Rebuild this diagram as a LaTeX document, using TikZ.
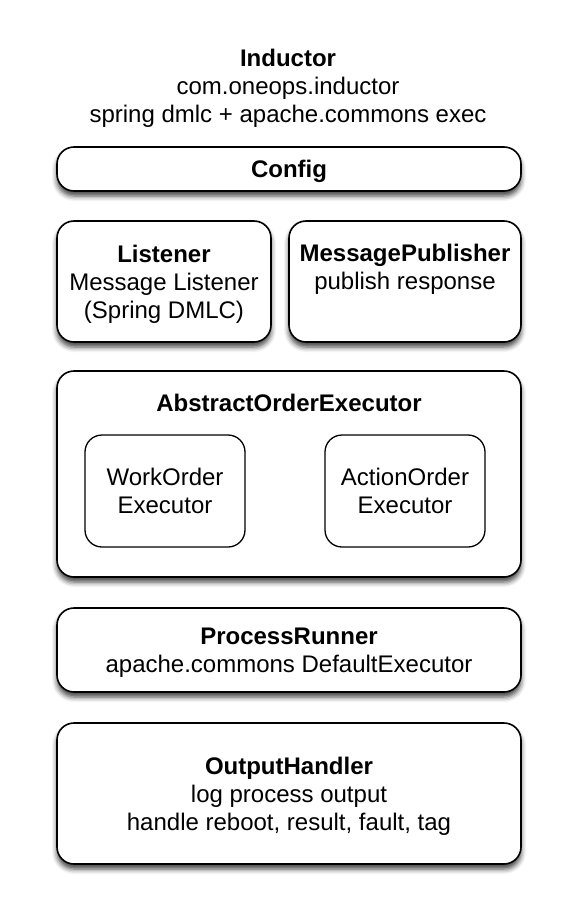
\documentclass[tikz,border=0pt]{standalone}
\usepackage{fontspec}
\setmainfont{Liberation Sans}
\usepackage{tikz}
\usetikzlibrary{shadows.blur}
\newcommand{\widthlayer}{464pt}
\newcommand{\widthpart}{160pt}
\newcommand{\heightpart}{112pt}
\tikzset{
    common/.style={draw, fill=white, rounded corners=17pt, align=center, inner sep=0pt, text depth=0pt},
    layer/.style={common, line width=1.6pt, minimum width=\widthlayer,
        blur shadow={shadow xshift=0pt, shadow yshift=-5pt, shadow blur radius=5pt, shadow opacity=75}},
    half/.style={layer, minimum width=214pt},
    part/.style={common, line width=1.3pt, minimum width=\widthpart, minimum height=\heightpart},
    caption/.style={align=center, inner sep=0pt}
}
\begin{document}
\begin{tikzpicture}[x=1pt, y=-1pt, font=\fontsize{24}{28}\selectfont]
    \useasboundingbox (0,0) rectangle (586,910);

    % title
    \node[caption] (inductor) at (288,88) {\textbf{Inductor}\\com.oneops.inductor\\spring dmlc + apache.commons exec};

    \node[layer, minimum height=44pt] (config) at (289,169) {\textbf{Config}};

    \node[half, minimum height=121pt] (listener) at (164,281.5) {\textbf{Listener}\\Message Listener\\(Spring DMLC)};
    \node[half, minimum width=232pt, minimum height=121pt] (publisher) at (405,281.5) {};
    \node[caption, anchor=north] (publisher-text) at ([yshift=-24pt]publisher.north) {\textbf{MessagePublisher}\\publish response};

    \node[layer, minimum height=206pt] (executor) at (289,474) {};
    \node[caption, anchor=north] (executor-text) at ([yshift=-24pt]executor.north) {\textbf{AbstractOrderExecutor}};
    \node[part] (workorder) at (165,491) {WorkOrder\\Executor};
    \node[part] (actionorder) at (405,491) {ActionOrder\\Executor};

    \node[layer, minimum height=84pt] (runner) at (289,650) {\textbf{ProcessRunner}\\apache.commons DefaultExecutor};

    \node[layer, minimum height=141pt] (output) at (289,793.5) {\textbf{OutputHandler}\\log process output\\handle reboot, result, fault, tag};
\end{tikzpicture}
\end{document}
